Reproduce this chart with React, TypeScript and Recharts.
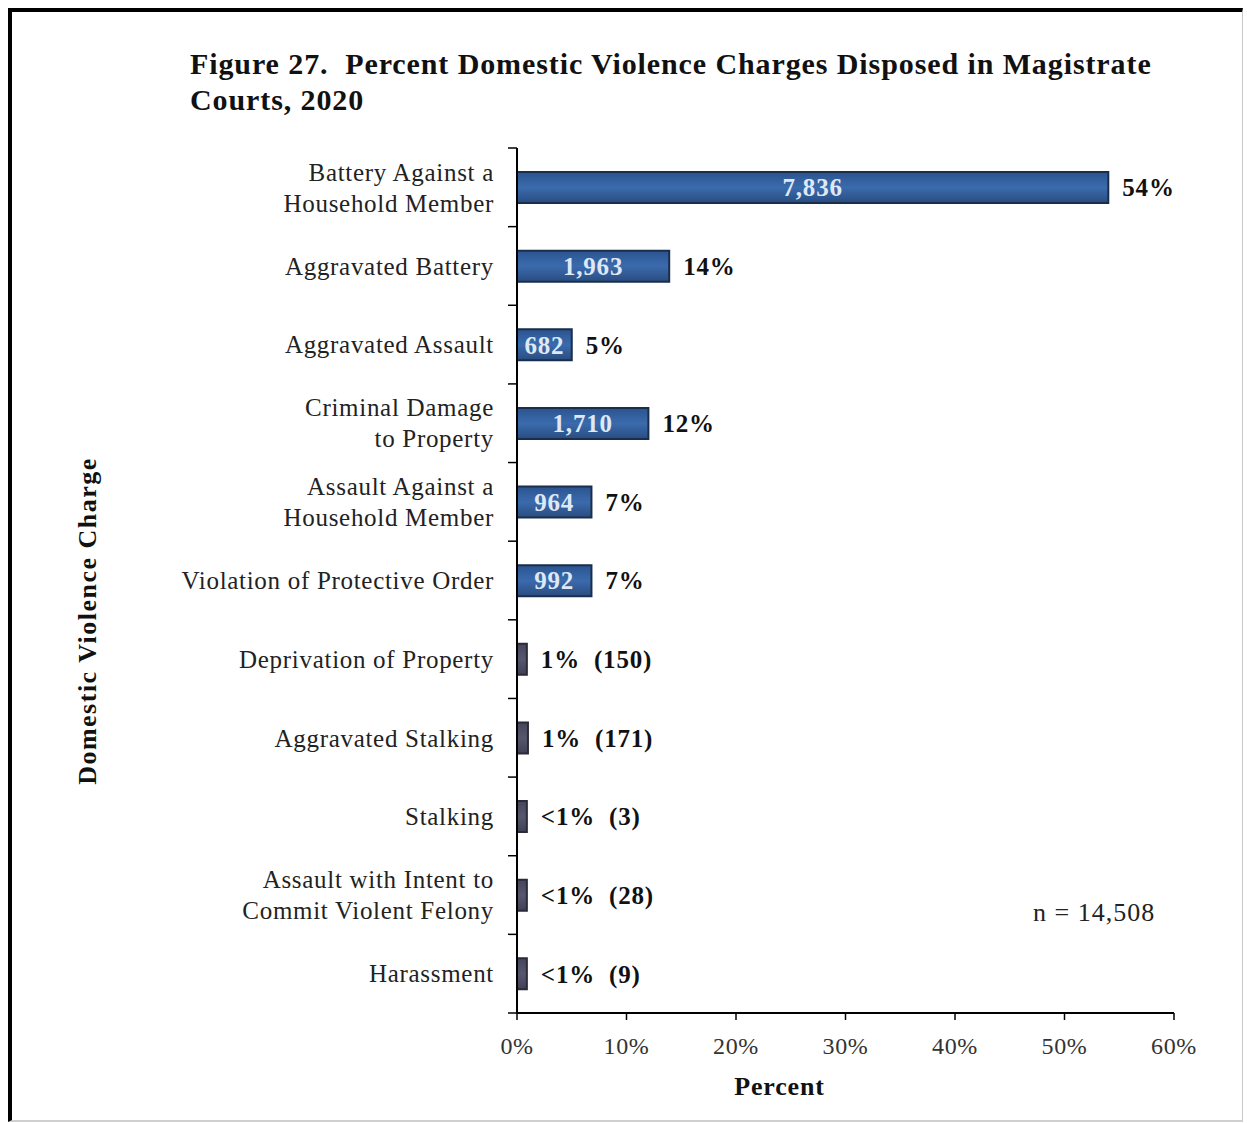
import React from 'react';
import { BarChart, Bar, XAxis, YAxis, Cell, LabelList, Label } from 'recharts';

// values
const categoryLines: string[][] = [
    ['Battery Against a', 'Household Member'],
    ['Aggravated Battery'],
    ['Aggravated Assault'],
    ['Criminal Damage', 'to Property'],
    ['Assault Against a', 'Household Member'],
    ['Violation of Protective Order'],
    ['Deprivation of Property'],
    ['Aggravated Stalking'],
    ['Stalking'],
    ['Assault with Intent to', 'Commit Violent Felony'],
    ['Harassment'],
];
const percentValues = [54.0, 13.9, 5.0, 12.0, 6.8, 6.8, 0.9, 1.0, 0.9, 0.9, 0.9];
const counts = [7836, 1963, 682, 1710, 964, 992, 150, 171, 3, 28, 9];
const percentLabels = ['54%', '14%', '5%', '12%', '7%', '7%', '1%', '1%', '<1%', '<1%', '<1%'];
const xTicks = [0, 10, 20, 30, 40, 50, 60];
const totalLabel = 'n = 14,508';

const data = categoryLines.map((lines, i) => ({
    name: lines.join(' '),
    lines,
    pct: percentValues[i],
    count: counts[i],
    pctLabel: percentLabels[i],
}));

const W = 1247;
const H = 1123;
const X_AXIS_H = 30;
const MARGIN = { top: 148, right: 73, bottom: 110 - X_AXIS_H, left: 0 };
const Y_AXIS_W = 517;
const BAND = (H - 148 - 110) / data.length;
const SERIF = '"Liberation Serif", "Times New Roman", Times, serif';

const CategoryTick = ({ x, y, payload, index }: any) => {
    const row = data[index] || data.find((d) => d.name === payload.value);
    const lines = row ? row.lines : [payload.value];
    const pitch = 31;
    const start = -((lines.length - 1) * pitch) / 2;
    return (
        <g>
            <line x1={x - 9} x2={x} y1={y - BAND / 2} y2={y - BAND / 2} stroke="#000" strokeWidth={1.5} />
            {index === data.length - 1 && (
                <line x1={x - 9} x2={x} y1={y + BAND / 2} y2={y + BAND / 2} stroke="#000" strokeWidth={1.5} />
            )}
            <text x={x - 23} y={y} textAnchor="end" fontFamily={SERIF} fontSize={25} letterSpacing={0.7} fill="#222">
                {lines.map((l: string, i: number) => (
                    <tspan key={i} x={x - 23} y={y + start + i * pitch} dy="0.35em">
                        {l}
                    </tspan>
                ))}
            </text>
        </g>
    );
};

const BarLabel = ({ x, y, width, height, index }: any) => {
    const row = data[index];
    const cy = y + height / 2;
    const wide = width > 40;
    return (
        <g>
            {wide && (
                <text
                    x={x + width / 2}
                    y={cy}
                    dy="0.35em"
                    textAnchor="middle"
                    fontFamily={SERIF}
                    fontSize={25}
                    fontWeight="bold"
                    letterSpacing={0.8}
                    fill="#dfe8f5"
                >
                    {row.count.toLocaleString('en-US')}
                </text>
            )}
            <text
                x={x + width + 14}
                y={cy}
                dy="0.35em"
                textAnchor="start"
                fontFamily={SERIF}
                fontSize={25}
                fontWeight="bold"
                letterSpacing={0.8}
                fill="#111"
            >
                <tspan>{row.pctLabel}</tspan>
                {!wide && <tspan dx={14}>({row.count})</tspan>}
            </text>
        </g>
    );
};

export default function App() {
    return (
        <div style={{ position: 'absolute', left: 0, top: 0, width: W, height: H, background: '#fff', fontFamily: SERIF }}>
            <div
                style={{
                    position: 'absolute',
                    left: 8,
                    top: 8,
                    width: 1230,
                    height: 1108,
                    borderTop: '4px solid #000',
                    borderLeft: '4px solid #000',
                    borderRight: '1px solid #c8c8c8',
                    borderBottom: '2px solid #d0d0d0',
                }}
            />
            <div
                style={{
                    position: 'absolute',
                    left: 190,
                    top: 46,
                    fontSize: 30,
                    fontWeight: 'bold',
                    letterSpacing: 0.9,
                    lineHeight: '36px',
                    color: '#111',
                    whiteSpace: 'pre',
                }}
            >
                {'Figure 27.  Percent Domestic Violence Charges Disposed in Magistrate\nCourts, 2020'}
            </div>
            <div
                style={{
                    position: 'absolute',
                    left: 88,
                    top: 621,
                    transform: 'translate(-50%, -50%) rotate(-90deg)',
                    fontSize: 26,
                    fontWeight: 'bold',
                    letterSpacing: 1.5,
                    whiteSpace: 'nowrap',
                    color: '#111',
                }}
            >
                Domestic Violence Charge
            </div>
            <div style={{ position: 'absolute', left: 1033, top: 898, fontSize: 26, letterSpacing: 1, color: '#222' }}>
                {totalLabel}
            </div>
            <div style={{ position: 'absolute', left: 0, top: 0 }}>
                <BarChart width={W} height={H} data={data} layout="vertical" margin={MARGIN} barCategoryGap={0}>
                    <defs>
                        <linearGradient id="blueBar" x1="0" y1="0" x2="0" y2="1">
                            <stop offset="0%" stopColor="#2b548f" />
                            <stop offset="50%" stopColor="#3b6bad" />
                            <stop offset="100%" stopColor="#294c80" />
                        </linearGradient>
                        <linearGradient id="greyBar" x1="0" y1="0" x2="0" y2="1">
                            <stop offset="0%" stopColor="#45455c" />
                            <stop offset="50%" stopColor="#56566e" />
                            <stop offset="100%" stopColor="#404055" />
                        </linearGradient>
                    </defs>
                    <XAxis
                        type="number"
                        domain={[0, 60]}
                        ticks={xTicks}
                        tickFormatter={(v) => `${v}%`}
                        height={X_AXIS_H}
                        axisLine={{ stroke: '#000', strokeWidth: 2 }}
                        tickLine={{ stroke: '#000', strokeWidth: 1.5 }}
                        tickSize={7}
                        tickMargin={17}
                        tick={{ fontFamily: SERIF, fontSize: 24, letterSpacing: 0.6, fill: '#333' }}
                        interval={0}
                    >
                        <Label
                            value="Percent"
                            position="bottom"
                            offset={34}
                            dx={-66}
                            style={{ fontFamily: SERIF, fontSize: 26, fontWeight: 'bold', letterSpacing: 0.8, fill: '#111' }}
                        />
                    </XAxis>
                    <YAxis
                        type="category"
                        dataKey="name"
                        width={Y_AXIS_W}
                        axisLine={{ stroke: '#000', strokeWidth: 2 }}
                        tickLine={false}
                        tickSize={0}
                        tickMargin={0}
                        interval={0}
                        tick={<CategoryTick />}
                    />
                    <Bar dataKey="pct" barSize={31} isAnimationActive={false} strokeWidth={2}>
                        {data.map((d, i) => (
                            <Cell
                                key={`cell-${i}`}
                                fill={d.pct >= 2 ? 'url(#blueBar)' : 'url(#greyBar)'}
                                stroke={d.pct >= 2 ? '#1a2e4c' : '#2a2a38'}
                            />
                        ))}
                        <LabelList dataKey="pct" content={<BarLabel />} />
                    </Bar>
                </BarChart>
            </div>
        </div>
    );
}
